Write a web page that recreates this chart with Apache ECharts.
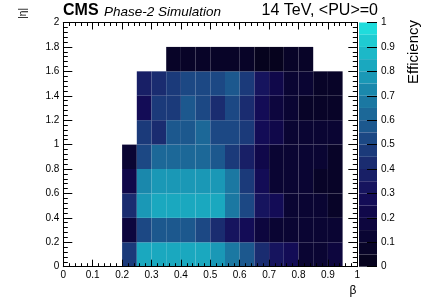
<!DOCTYPE html>
<html><head><meta charset="utf-8">
<script src="https://cdn.jsdelivr.net/npm/echarts@6/dist/echarts.min.js"></script>
<style>html,body{margin:0;padding:0;background:#fff}#c{width:425px;height:305px}</style>
</head><body><div id="c"></div>
<script>
// β bin lower edges (bin width 0.05) and |η| bin lower edges (bin width 0.2)
const betaBins = [0.20,0.25,0.30,0.35,0.40,0.45,0.50,0.55,0.60,0.65,0.70,0.75,0.80,0.85,0.90];
const etaBins = [0.0,0.2,0.4,0.6,0.8,1.0,1.2,1.4,1.6];
const betaWidth = 0.05;
const etaWidth = 0.2;
// efficiency per |η| row (bottom to top), one entry per β bin; null = empty bin
const eff_eta00 = [0.45,0.81,0.84,0.84,0.84,0.83,0.76,0.67,0.58,0.43,0.33,0.27,0.13,0.12,0.17];
const eff_eta02 = [0.18,0.52,0.55,0.55,0.55,0.50,0.40,0.30,0.25,0.18,0.12,0.10,0.10,0.10,0.10];
const eff_eta04 = [0.42,0.78,0.84,0.84,0.84,0.84,0.81,0.68,0.52,0.30,0.28,0.12,0.10,0.10,0.08];
const eff_eta06 = [0.22,0.73,0.78,0.78,0.78,0.78,0.79,0.67,0.45,0.25,0.13,0.10,0.10,0.08,0.07];
const eff_eta08 = [0.12,0.50,0.63,0.63,0.64,0.63,0.58,0.48,0.35,0.20,0.13,0.10,0.10,0.10,0.08];
const eff_eta10 = [null,0.48,0.42,0.57,0.57,0.63,0.52,0.52,0.46,0.28,0.22,0.12,0.10,0.10,0.10];
const eff_eta12 = [null,0.25,0.48,0.46,0.58,0.52,0.43,0.54,0.40,0.27,0.17,0.10,0.08,0.07,0.08];
const eff_eta14 = [null,0.37,0.41,0.47,0.51,0.52,0.52,0.58,0.45,0.30,0.23,0.13,0.10,0.08,0.08];
const eff_eta16 = [null,null,null,0.06,0.08,0.06,0.06,0.05,0.05,0.04,0.04,0.05,0.06,null,null];
const effRows = [eff_eta00,eff_eta02,eff_eta04,eff_eta06,eff_eta08,eff_eta10,eff_eta12,eff_eta14,eff_eta16];
// palette (20 steps, 0 -> 1)
const palette = ['#06031e','#080428','#0a0533','#0d063e','#10084a','#130c56','#16145e','#181f66','#1a2c70','#1b3a7a',
                 '#1c4884','#1c588e','#1c6898','#1b78a2','#1a88ac','#1a98b6','#1aa8bf','#1cb8c8','#1ecbd2','#1fdcdc'];

const data = [];
effRows.forEach((row, r) => row.forEach((v, c) => {
  if (v !== null) data.push([betaBins[c], etaBins[r], v]);
}));
const pieces = palette.map((col, i) => {
  const p = {gte: i / 20, color: col};
  if (i < 19) p.lt = (i + 1) / 20; else p.lte = 1;
  return p;
});

const font = 'Liberation Sans, Arial, Helvetica, sans-serif';
const G = {left: 63.3, top: 22.5, width: 294, height: 244.2};
const chart = echarts.init(document.getElementById('c'), null, {renderer: 'canvas'});
const lbl = {color: '#000', fontFamily: font, fontSize: 10};
const fmt = v => String(+v.toFixed(1));
function ax(grid, pos, max, interval, len, showLine, withLabels) {
  return {type: 'value', gridIndex: grid, min: 0, max: max, interval: interval, position: pos, z: 10,
    axisLine: {show: showLine, onZero: false, lineStyle: {color: '#000', width: 1}},
    splitLine: {show: false},
    axisTick: {show: len > 0, inside: true, length: len, lineStyle: {color: '#000'}},
    axisLabel: withLabels ? Object.assign({margin: 4, formatter: fmt}, lbl) : {show: false}};
}
chart.setOption({
  animation: false,
  backgroundColor: '#fff',
  grid: [
    {left: G.left, top: G.top, width: G.width, height: G.height},
    {left: 359, top: G.top, width: 18, height: G.height}
  ],
  xAxis: [
    ax(0, 'bottom', 1, 0.1, 7, true, true),
    ax(0, 'top', 1, 0.1, 7, true, false),
    ax(0, 'bottom', 1, 0.02, 3.5, false, false),
    ax(0, 'top', 1, 0.02, 3.5, false, false),
    {type: 'value', gridIndex: 1, min: 0, max: 1, show: false, axisLine: {onZero: false}}
  ],
  yAxis: [
    ax(0, 'left', 2, 0.2, 9, true, true),
    ax(0, 'right', 2, 0.2, 9, true, false),
    ax(0, 'left', 2, 0.04, 4.5, false, false),
    ax(0, 'right', 2, 0.04, 4.5, false, false),
    ax(1, 'right', 1, 0.1, 10, false, true)
  ],
  visualMap: {
    type: 'piecewise', dimension: 2, seriesIndex: 0, pieces: pieces,
    orient: 'vertical', left: 359, top: G.top, itemWidth: 18, itemHeight: G.height / 20, itemGap: 0,
    itemSymbol: 'rect', showLabel: false, padding: 0, selectedMode: false, hoverLink: false,
    z: 1
  },
  series: [{
    type: 'custom', xAxisIndex: 0, yAxisIndex: 0, data: data,
    encode: {x: 0, y: 1},
    renderItem: function (params, api) {
      const x0 = api.value(0), y0 = api.value(1);
      const p1 = api.coord([x0, y0 + etaWidth]);
      const p2 = api.coord([x0 + betaWidth, y0]);
      return {type: 'rect', shape: {x: p1[0], y: p1[1], width: p2[0] - p1[0], height: p2[1] - p1[1]},
              style: {fill: api.visual('color')}};
    },
    z: 1
  }],
  graphic: [
    {type: 'text', left: 63, top: 3, style: {text: 'CMS', font: 'bold 16px ' + font, fill: '#000'}},
    {type: 'text', left: 104, top: 5, style: {text: 'Phase-2 Simulation', font: 'italic 13.5px ' + font, fill: '#000'}},
    {type: 'text', right: 47, top: 3, style: {text: '14 TeV, <PU>=0', font: '16px ' + font, fill: '#000'}},
    {type: 'text', x: 28, y: 8, rotation: Math.PI / 2, style: {text: '|η|', font: '10px ' + font, fill: '#000', align: 'right', verticalAlign: 'bottom'}},
    {type: 'text', x: 353, y: 285, style: {text: 'β', font: '12px ' + font, fill: '#000', align: 'center'}},
    {type: 'text', x: 421, y: 20, rotation: Math.PI / 2, style: {text: 'Efficiency', font: '15px ' + font, fill: '#000', align: 'right', verticalAlign: 'bottom'}}
  ]
});
</script></body></html>
